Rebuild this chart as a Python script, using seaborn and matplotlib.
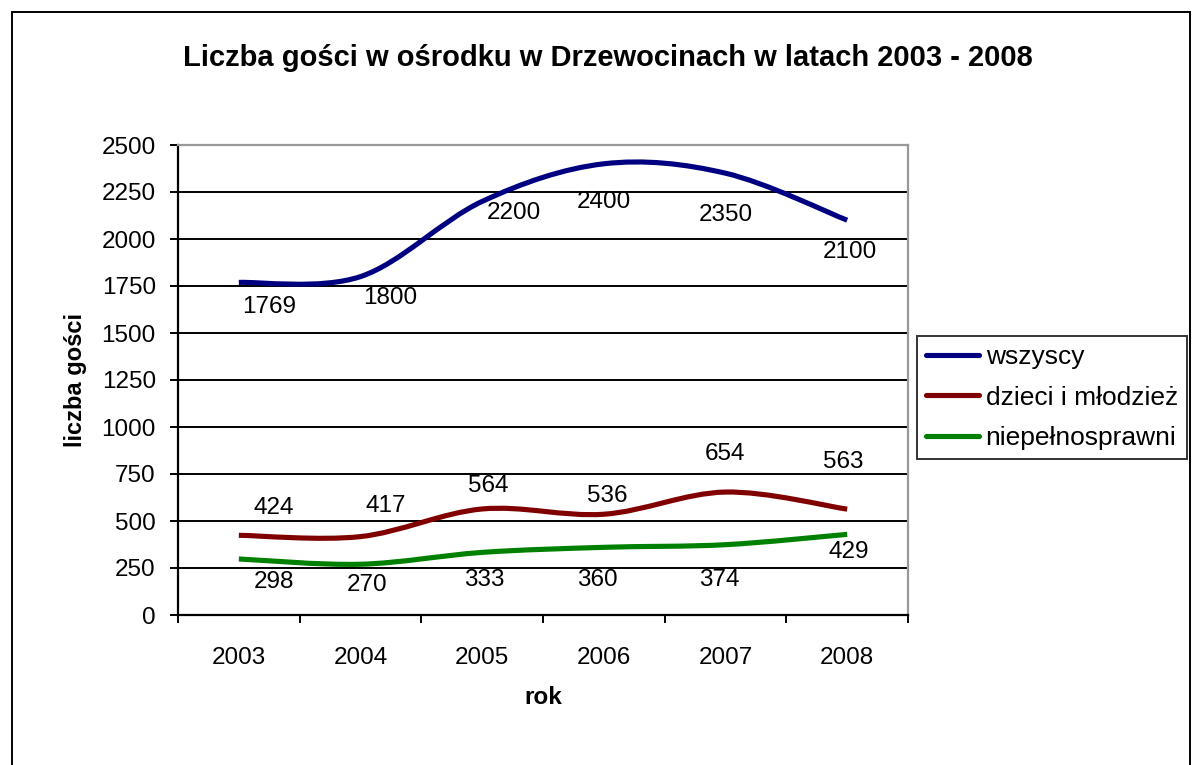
import matplotlib
matplotlib.use("Agg")
import matplotlib.pyplot as plt
import seaborn as sns
import numpy as np
import pandas as pd
from matplotlib.path import Path
from matplotlib.patches import PathPatch, Rectangle
from matplotlib.lines import Line2D

# data
years = ["2003", "2004", "2005", "2006", "2007", "2008"]
wszyscy = [1769, 1800, 2200, 2400, 2350, 2100]
dzieci = [424, 417, 564, 536, 654, 563]
niepelnosprawni = [298, 270, 333, 360, 374, 429]
series_names = ["wszyscy", "dzieci i młodzież", "niepełnosprawni"]

COLORS = ["#000080", "#800000", "#008000"]
# label offsets in pixels (dx, dy up) as placed in the original
LABEL_OFFSETS = [
    [(30, -25), (30, -21), (32, -12), (0, -38), (0, -42), (3, -32)],
    [(35, 27), (25, 31), (6, 23), (3, 18), (0, 38), (-4, 47)],
    [(35, -23), (7, -21), (2, -28), (-6, -33), (-6, -35), (2, -18)],
]

df = pd.DataFrame({"rok": years, series_names[0]: wszyscy,
                   series_names[1]: dzieci, series_names[2]: niepelnosprawni})

sns.set_style("white")
plt.rcParams["font.family"] = ["Liberation Sans", "DejaVu Sans"]
plt.rcParams.update({"text.color": "black", "axes.labelcolor": "black",
                     "xtick.color": "black", "ytick.color": "black"})

DPI = 100
FS = 17.5
fig = plt.figure(figsize=(12, 7.65), dpi=DPI)
ax = fig.add_axes([178 / 1200, 1 - 615 / 765, 730 / 1200, 470 / 765])


def smooth_path(xs, ys):
    """Excel-like smoothed line: cubic bezier through every point."""
    pts = np.column_stack([xs, ys]).astype(float)
    n = len(pts)
    verts = [pts[0]]
    codes = [Path.MOVETO]
    for i in range(n - 1):
        p_prev = pts[i - 1] if i > 0 else pts[i]
        p_next2 = pts[i + 2] if i + 2 < n else pts[i + 1]
        c1 = pts[i] + (pts[i + 1] - p_prev) / 6
        c2 = pts[i + 1] - (p_next2 - pts[i]) / 6
        verts += [c1, c2, pts[i + 1]]
        codes += [Path.CURVE4] * 3
    return Path(verts, codes)


x = np.arange(len(years))
handles = []
for k, name in enumerate(series_names):
    vals = df[name].values
    patch = PathPatch(smooth_path(x, vals), facecolor="none", edgecolor=COLORS[k],
                      lw=3.7, capstyle="butt", joinstyle="round", zorder=3)
    ax.add_patch(patch)
    for xi, v, (dx, dy) in zip(x, vals, LABEL_OFFSETS[k]):
        ax.annotate(str(v), (xi, v), xytext=(dx * 72 / DPI, dy * 72 / DPI),
                    textcoords="offset points", ha="center", va="center",
                    fontsize=FS, color="black", zorder=4)
    handles.append(Line2D([], [], color=COLORS[k], lw=3.7))

ax.set_xlim(-0.5, len(years) - 0.5)
ax.set_ylim(0, 2500)
ax.set_yticks(np.arange(0, 2501, 250))
ax.set_xticks(x)
ax.set_xticklabels(years)
ax.set_xticks(np.arange(-0.5, len(years)), minor=True)

for yv in np.arange(250, 2500, 250):
    ax.axhline(yv, color="black", lw=1.4, zorder=1)

for side in ["left", "bottom"]:
    ax.spines[side].set_color("black")
    ax.spines[side].set_linewidth(1.6)
for side in ["top", "right"]:
    ax.spines[side].set_color("#999999")
    ax.spines[side].set_linewidth(1.6)

ax.tick_params(axis="y", which="major", direction="out", length=6, width=1.4,
               color="black", labelsize=FS, pad=10, left=True)
ax.tick_params(axis="x", which="major", length=0, labelsize=FS, pad=23)
ax.tick_params(axis="x", which="minor", direction="out", length=6, width=1.4,
               color="black", bottom=True)

ax.set_ylabel("liczba gości", fontsize=17, fontweight="bold")
ax.set_xlabel("rok", fontsize=17.5, fontweight="bold")
ax.yaxis.set_label_coords((75 - 178) / 730, 0.5)
ax.xaxis.set_label_coords(0.5, (615 - 698) / 470)
ax.yaxis.label.set_va("center")
ax.xaxis.label.set_va("center")

fig.text(608 / 1200, 1 - 58 / 765, "Liczba gości w ośrodku w Drzewocinach w latach 2003 - 2008",
         ha="center", va="center", fontsize=21, fontweight="bold")

leg = fig.legend(handles, series_names, loc="upper left",
                 bbox_to_anchor=(917 / 1200, 1 - 336 / 765), fontsize=19,
                 frameon=True, fancybox=False, handlelength=2.0, handletextpad=0.25,
                 labelspacing=0.62, borderpad=0.35, borderaxespad=0)
leg.get_frame().set_edgecolor("black")
leg.get_frame().set_linewidth(1.4)

# outer chart border
fig.patches.append(Rectangle((12 / 1200, -0.05), 1178 / 1200, 1.05 - 12 / 765,
                             transform=fig.transFigure, fill=False,
                             edgecolor="black", lw=1.4))

fig.savefig("out.png", dpi=DPI)
